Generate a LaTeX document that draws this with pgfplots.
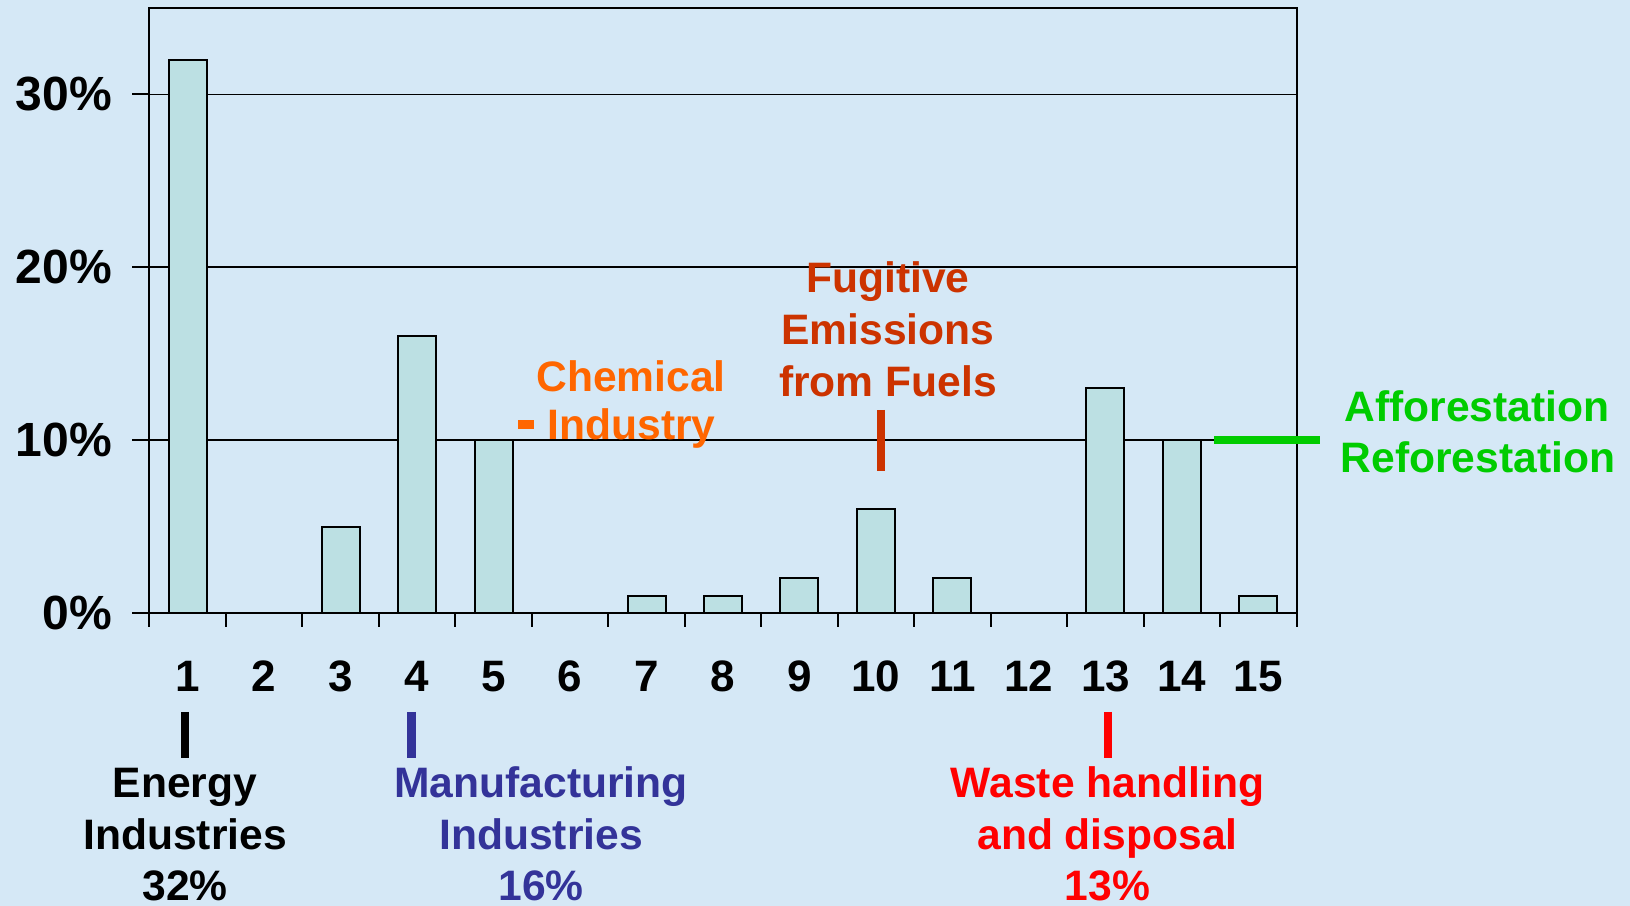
\documentclass[border=0pt]{standalone}
\usepackage{fontspec}
\setmainfont{Liberation Sans}
\usepackage{pgfplots}
\pgfplotsset{compat=1.18}
\definecolor{bg}{HTML}{D5E8F6}
\definecolor{barfill}{HTML}{BCE0E3}
\definecolor{fugitive}{HTML}{CC3300}
\definecolor{chem}{HTML}{FF6600}
\definecolor{manu}{HTML}{333399}
\definecolor{waste}{HTML}{FF0000}
\definecolor{affor}{HTML}{00CC00}
\newcommand{\annot}{\bfseries\fontsize{21.3}{26}\selectfont}
\begin{document}
\begin{tikzpicture}
\fill[bg] (0,0) rectangle (815pt,453pt);
\begin{axis}[
  at={(74.65pt,146.5pt)}, anchor=south west,
  scale only axis, width=573.7pt, height=302.5pt,
  xmin=0.5, xmax=15.5, ymin=0, ymax=35,
  axis line style={line width=1pt, black},
  ytick={0,10,20,30}, yticklabels={0\%,10\%,20\%,30\%},
  xtick={1,...,15},
  minor xtick={0.5,1.5,...,15.5},
  xtick pos=bottom, ytick pos=left,
  tick align=outside,
  major tick length=8.5pt, minor tick length=7pt,
  tick style={black, line width=1pt},
  major x tick style={draw=none},
  ymajorgrids, grid style={black, line width=0.85pt},
  /pgf/number format/assume math mode=true,
  xticklabel style={font=\bfseries\fontsize{22}{22}\selectfont, anchor=base, yshift=-31pt},
  yticklabel style={font=\bfseries\fontsize{24}{24}\selectfont, anchor=east, inner sep=0pt, xshift=-10pt},
  clip=false,
]
\addplot[ybar, bar width=19pt, fill=barfill, draw=black, line width=1pt]
  coordinates {(1,32) (3,5) (4,16) (5,10) (7,1) (8,1) (9,2) (10,6) (11,2) (13,13) (14,10) (15,1)};
\end{axis}
\begin{scope}[x=0.5pt, y=-0.5pt, yshift=453pt]
  \tikzset{lab/.style={anchor=base, inner sep=0pt, font=\annot}}
  % markers
  \draw[line width=4.25pt, black] (185,712) -- (185,758);
  \draw[line width=4.25pt, manu] (411.7,712) -- (411.7,758);
  \draw[line width=4.25pt, waste] (1108,712) -- (1108,758);
  \draw[line width=4.15pt, fugitive] (881,410) -- (881,471);
  \draw[line width=3.65pt, affor] (1214,440) -- (1320,440);
  \draw[line width=4.5pt, chem] (518,424.7) -- (534.3,424.7);
  % Energy
  \node[lab, text=black] at (185,798) {Energy};
  \node[lab, text=black] at (185,850) {Industries};
  \node[lab, text=black] at (185,901) {32\%};
  % Manufacturing
  \node[lab, text=manu] at (541,798) {Manufacturing};
  \node[lab, text=manu] at (541,850) {Industries};
  \node[lab, text=manu] at (541,901) {16\%};
  % Waste
  \node[lab, text=waste] at (1107.5,798) {Waste handling};
  \node[lab, text=waste] at (1107.5,850) {and disposal};
  \node[lab, text=waste] at (1107.5,901) {13\%};
  % Fugitive
  \node[lab, text=fugitive] at (888,293) {Fugitive};
  \node[lab, text=fugitive] at (888,345) {Emissions};
  \node[lab, text=fugitive] at (888,397) {from Fuels};
  % Chemical
  \node[lab, text=chem] at (631,391.7) {Chemical};
  \node[lab, text=chem] at (631.5,440) {Industry};
  % Afforestation
  \node[lab, text=affor] at (1477,422) {Afforestation};
  \node[lab, text=affor] at (1478,473) {Reforestation};
\end{scope}
\pgfresetboundingbox
\useasboundingbox (0,0) rectangle (815pt,453pt);
\end{tikzpicture}
\end{document}
